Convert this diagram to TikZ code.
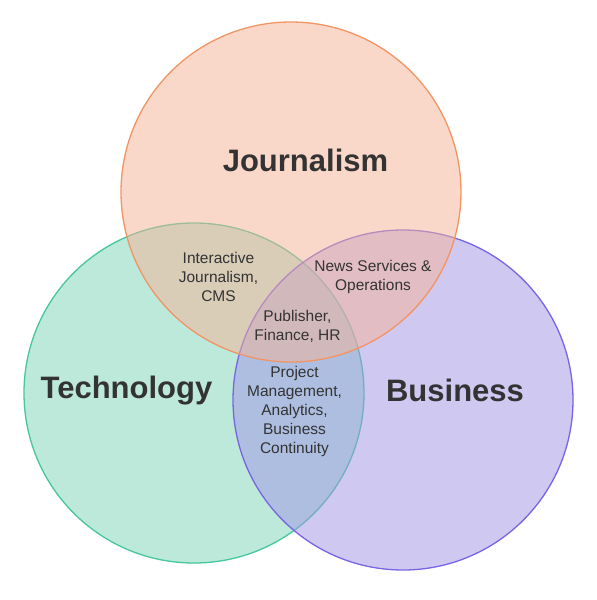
\documentclass[tikz,border=0pt]{standalone}
\usepackage{fontspec}
\setmainfont{Liberation Sans}
\definecolor{jfill}{RGB}{245,179,151}
\definecolor{tfill}{RGB}{125,213,185}
\definecolor{bfill}{RGB}{161,149,231}
\definecolor{jline}{RGB}{243,148,100}
\definecolor{tline}{RGB}{70,199,158}
\definecolor{bline}{RGB}{120,100,228}
\definecolor{txt}{RGB}{51,51,51}
\begin{document}
\begin{tikzpicture}[x=1pt,y=-1pt,
  setcircle/.style={circle,minimum size=340pt,inner sep=0pt,line width=1.3pt,fill opacity=0.5,draw opacity=1},
  bigtitle/.style={text=txt,font=\fontsize{31}{36}\selectfont\bfseries},
  smalltext/.style={text=txt,align=center,font=\fontsize{15.5}{19}\selectfont}]
\useasboundingbox[fill=white] (0,0) rectangle (597,600);
\node[setcircle,draw=tline,fill=tfill] (tech) at (194,393) {};
\node[setcircle,draw=bline,fill=bfill] (bus) at (403,400) {};
\node[setcircle,draw=jline,fill=jfill] (jour) at (291,192) {};
\node[bigtitle] (jt) at (305.5,160) {Journalism};
\node[bigtitle] (tt) at (126.5,391) {Technology};
\node[bigtitle] (bt) at (455,390.5) {Business};
\node[smalltext] (ij) at (218.5,276.5) {Interactive\\Journalism,\\CMS};
\node[smalltext] (ns) at (373,277) {News Services \&\\Operations};
\node[smalltext] (pf) at (297.5,326) {Publisher,\\Finance, HR};
\node[smalltext] (pm) at (294.5,411.5) {Project\\Management,\\Analytics,\\Business\\Continuity};
\end{tikzpicture}
\end{document}
